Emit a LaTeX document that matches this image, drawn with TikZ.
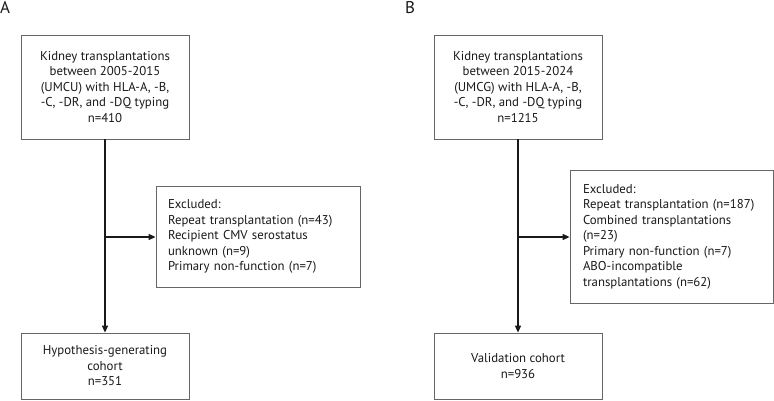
\documentclass[tikz,border=0pt]{standalone}
\usepackage{fontspec}
\setmainfont{PT Sans}
\usepackage{tikz}
\usetikzlibrary{arrows.meta}

\begin{document}
\begin{tikzpicture}[x=1pt, y=-1pt,
    every node/.style={font=\fontsize{12.8}{15.5}\selectfont, text=black!90},
    flowbox/.style={rectangle, draw=black!60, line width=0.8pt, align=center, minimum width=168pt, inner sep=0pt},
    exclbox/.style={rectangle, draw=black!60, line width=0.8pt, align=left, inner sep=0pt},
    flow/.style={draw=black!90, line width=1.3pt, -{Triangle[length=7pt, width=6pt]}},
    panel/.style={font=\fontsize{17}{17}\selectfont, inner sep=0pt, anchor=north west}]
    \useasboundingbox (0,0) rectangle (774,400);

    % panel A
    \node[panel] (labA) at (0,1) {A};
    \node[flowbox, minimum height=104pt] (startA) at (105,87) {Kidney transplantations\\between 2005-2015\\(UMCU) with HLA-A, -B,\\-C, -DR, and -DQ typing\\n=410};
    \node[exclbox, minimum width=204pt, minimum height=101pt, text width=180pt] (exclA) at (258,236.5) {Excluded:\\Repeat transplantation (n=43)\\Recipient CMV serostatus\\unknown (n=9)\\Primary non-function (n=7)};
    \node[flowbox, minimum height=66pt] (endA) at (105,366) {Hypothesis-generating\\cohort\\n=351};
    \coordinate (splitA) at (105,237);

    % panel B
    \node[panel] (labB) at (405,1) {B};
    \node[flowbox, minimum height=104pt] (startB) at (518,87) {Kidney transplantations\\between 2015-2024\\(UMCG) with HLA-A, -B,\\-C, -DR, and -DQ typing\\n=1215};
    \node[exclbox, minimum width=203pt, minimum height=133pt, text width=177pt] (exclB) at (671.5,236.5) {Excluded:\\Repeat transplantation (n=187)\\Combined transplantations\\(n=23)\\Primary non-function (n=7)\\ABO-incompatible\\transplantations (n=62)};
    \node[flowbox, minimum height=66pt] (endB) at (518,366) {Validation cohort\\n=936};
    \coordinate (splitB) at (518,237);

    \draw[flow] (startA) -- (endA);
    \draw[flow] (splitA) -- (splitA -| exclA.west);
    \draw[flow] (startB) -- (endB);
    \draw[flow] (splitB) -- (splitB -| exclB.west);
\end{tikzpicture}
\end{document}
